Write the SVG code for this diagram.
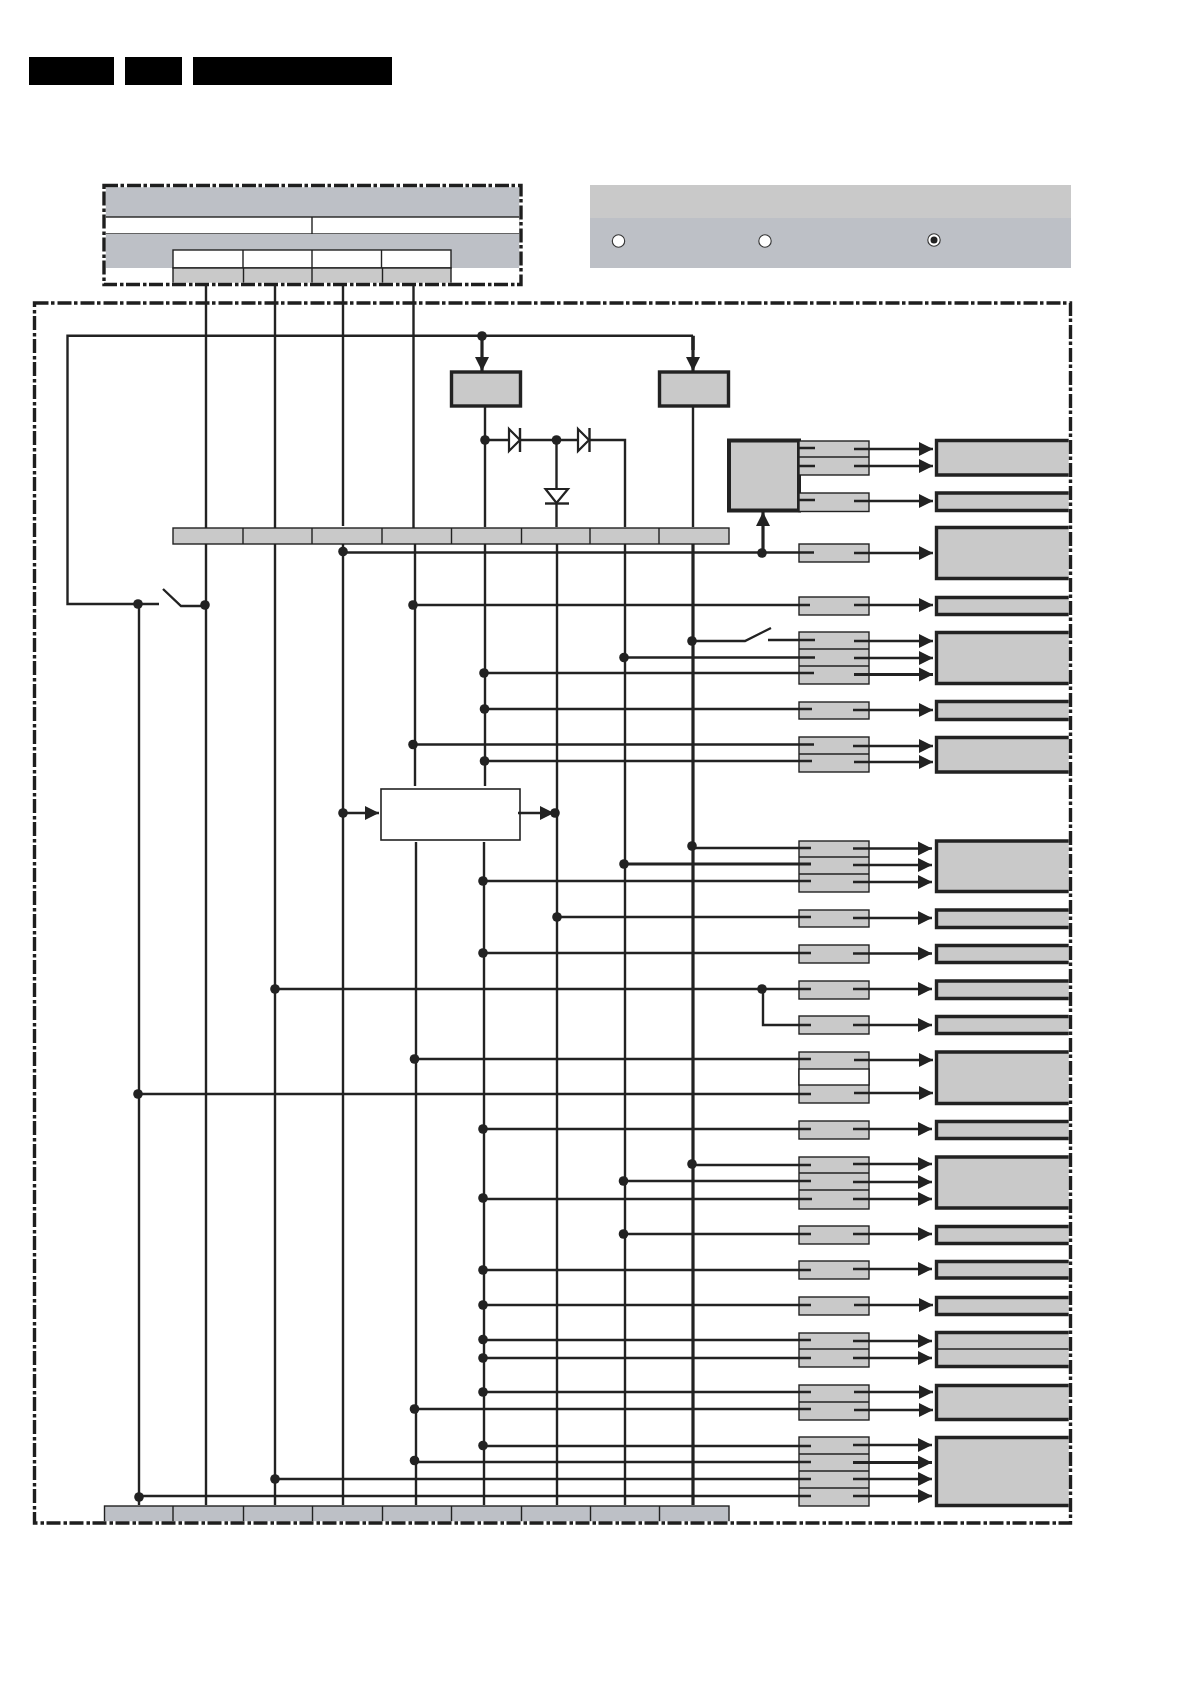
<svg xmlns="http://www.w3.org/2000/svg" width="1192" height="1685" viewBox="0 0 1192 1685">
<style>
.g{fill:#c9c9c9}.b{fill:#bdc0c6}
.cell{fill:#c9c9c9;stroke:#222;stroke-width:1.4}
.cellb{fill:#bdc0c6;stroke:#222;stroke-width:1.4}
.wc{fill:#fff;stroke:#222;stroke-width:1.4}
.t{fill:#c9c9c9;stroke:#222;stroke-width:3.4}
.k{fill:#c9c9c9;stroke:#222;stroke-width:4}
.d{stroke:#222;stroke-width:1.4;fill:none}
.w{stroke:#222;stroke-width:2.4;fill:none}
.th{stroke:#222;stroke-width:3.2;fill:none}
.a{stroke:#222;stroke-width:2.4;fill:none;marker-end:url(#ah)}
.at{stroke:#222;stroke-width:3.2;fill:none;marker-end:url(#ah)}
.dash{stroke:#1e1e1e;stroke-width:3.4;fill:none;stroke-dasharray:14 2.5 3.5 3}
.under{stroke:#fff;stroke-width:3.6;fill:none}
.dot{fill:#222}
.di{fill:#fff;stroke:#222;stroke-width:2.2}
.r{fill:#fff;stroke:#333;stroke-width:1.1}
</style>
<defs>
<marker id="ah" markerUnits="userSpaceOnUse" markerWidth="15" markerHeight="15" refX="14" refY="7.5" orient="auto"><path d="M0 0.500L14 7.500L0 14.500Z" fill="#222"/></marker>
</defs>
<rect width="1192" height="1685" fill="#fff"/>
<g id="header">
<rect x="29" y="57" width="85" height="28"/>
<rect x="125" y="57" width="57" height="28"/>
<rect x="193" y="57" width="199" height="28"/>
</g>
<g id="legend-top">
<rect class="b" x="104" y="186" width="416" height="31"/>
<rect class="wc" x="104" y="217" width="416" height="17"/>
<path class="d" d="M312 217V234"/>
<rect class="b" x="104" y="234" width="416" height="34"/>
<rect class="wc" x="173" y="250" width="278" height="18"/>
<path class="d" d="M243 250V268M312 250V268M381.5 250V268"/>
<rect class="cell" x="173" y="268" width="278" height="17"/>
<path class="d" d="M243.500 268V285M312 268V285M382.500 268V285"/>
</g>
<g id="legend-right">
<rect class="g" x="590" y="185" width="481" height="33"/>
<rect class="b" x="590" y="218" width="481" height="50"/>
<circle class="r" cx="618.500" cy="241" r="6.200"/>
<circle class="r" cx="765" cy="241" r="6.200"/>
<circle class="r" cx="934" cy="240" r="6.200"/>
<circle class="dot" cx="934" cy="240" r="3.500"/>
</g>
<g id="top-bar">
<rect class="cell" x="173" y="528" width="556" height="16"/>
<path class="d" d="M243 528V544M312 528V544M382 528V544M451.500 528V544M521.500 528V544M590 528V544M659 528V544"/>
</g>
<g id="bottom-bar">
<rect class="cellb" x="104.500" y="1506" width="624.500" height="17"/>
<path class="d" d="M173 1506V1523M243.500 1506V1523M312.500 1506V1523M382.500 1506V1523M451.500 1506V1523M521.500 1506V1523M590.500 1506V1523M659.500 1506V1523"/>
</g>
<g id="reg1"><rect class="t" x="451.500" y="372" width="69" height="34"/></g>
<g id="reg2"><rect class="t" x="659.500" y="372" width="69" height="34"/></g>
<g id="chip"><rect class="k" x="729" y="440.500" width="70" height="70"/></g>
<g id="center"><rect class="wc" x="381" y="789" width="139" height="51" style="stroke-width:1.600"/></g>
<g id="switches">
<rect class="cell" x="799" y="441" width="70" height="34"/><path class="d" d="M799 457H869"/>
<rect class="cell" x="799" y="493" width="70" height="18.500"/>
<rect class="cell" x="799" y="544" width="70" height="18"/>
<rect class="cell" x="799" y="597" width="70" height="18"/>
<rect class="cell" x="799" y="632" width="70" height="52"/><path class="d" d="M799 649H869M799 666H869"/>
<rect class="cell" x="799" y="702" width="70" height="17"/>
<rect class="cell" x="799" y="737" width="70" height="35"/><path class="d" d="M799 754H869"/>
<rect class="cell" x="799" y="841" width="70" height="51"/><path class="d" d="M799 857H869M799 874H869"/>
<rect class="cell" x="799" y="910" width="70" height="17"/>
<rect class="cell" x="799" y="945" width="70" height="18"/>
<rect class="cell" x="799" y="981" width="70" height="18"/>
<rect class="cell" x="799" y="1016" width="70" height="18"/>
<rect class="cell" x="799" y="1052" width="70" height="51"/><rect class="wc" x="799" y="1069" width="70" height="16"/>
<rect class="cell" x="799" y="1121" width="70" height="18"/>
<rect class="cell" x="799" y="1157" width="70" height="52"/><path class="d" d="M799 1173H869M799 1190H869"/>
<rect class="cell" x="799" y="1226" width="70" height="18"/>
<rect class="cell" x="799" y="1261" width="70" height="18"/>
<rect class="cell" x="799" y="1297" width="70" height="18"/>
<rect class="cell" x="799" y="1333" width="70" height="34"/><path class="d" d="M799 1349H869"/>
<rect class="cell" x="799" y="1385" width="70" height="35"/><path class="d" d="M799 1402H869"/>
<rect class="cell" x="799" y="1437" width="70" height="69"/><path class="d" d="M799 1454H869M799 1471H869M799 1488H869"/>
</g>
<g id="targets">
<path class="t" d="M1071 440.500H936.500V475H1071"/>
<path class="t" d="M1071 493H936.500V510.500H1071"/>
<path class="t" d="M1071 527.500H936.500V578.500H1071"/>
<path class="t" d="M1071 597.500H936.500V614.500H1071"/>
<path class="t" d="M1071 632.500H936.500V683.500H1071"/>
<path class="t" d="M1071 701.500H936.500V719.500H1071"/>
<path class="t" d="M1071 737.500H936.500V772H1071"/>
<path class="t" d="M1071 841H936.500V891.500H1071"/>
<path class="t" d="M1071 910H936.500V927.500H1071"/>
<path class="t" d="M1071 945.500H936.500V962.500H1071"/>
<path class="t" d="M1071 981H936.500V998.500H1071"/>
<path class="t" d="M1071 1016.500H936.500V1033.500H1071"/>
<path class="t" d="M1071 1052H936.500V1103.500H1071"/>
<path class="t" d="M1071 1121.500H936.500V1138.500H1071"/>
<path class="t" d="M1071 1157H936.500V1208H1071"/>
<path class="t" d="M1071 1226.500H936.500V1243.500H1071"/>
<path class="t" d="M1071 1261.500H936.500V1278H1071"/>
<path class="t" d="M1071 1297.500H936.500V1314.500H1071"/>
<path class="t" d="M1071 1332.500H936.500V1366.500H1071"/><path class="d" d="M936.500 1349H1071"/>
<path class="t" d="M1071 1385.500H936.500V1419.500H1071"/>
<path class="t" d="M1071 1437.500H936.500V1505.500H1071"/>
</g>
<g id="frames">
<rect class="under" x="104" y="185.500" width="417" height="99"/>
<rect class="dash" x="104" y="185.500" width="417" height="99"/>
<rect class="under" x="34.500" y="303" width="1036" height="1220"/>
<rect class="dash" x="34.500" y="303" width="1036" height="1220"/>
</g>
<g id="connectors">
<path class="w" d="M206 285V528M275 285V528M343 285V526M413.500 285V528"/>
<path class="w" d="M159 604H67.500V335.700H693"/>
<path class="th" d="M693 335.700V350"/>
<path class="at" d="M482 336V371"/>
<path class="at" d="M693 336V371"/>
<path class="w" d="M485 406V527M485 440H509M520 440H578M589.500 440H625V527M556.500 440V489M556.500 503V527M693 406V527"/>
<path class="w" d="M206 544V1505M275 544V1505M343 544V1505M415 544V786M416 842V1505M485 544V786M484 842V1505M557 544V1505M625 544V1505"/>
<path class="th" d="M693 544V1505"/>
<path class="w" d="M139 604V1505"/>
<path class="w" d="M163 589L181 606H205"/>
<path class="w" d="M343 552.500H814"/>
<path class="at" d="M763 553V512"/>
<path class="w" d="M799 448H815M799 466H815M799 500H815"/>
<path class="a" d="M854 449H933"/><path class="a" d="M854 466H933"/><path class="a" d="M854 501H933"/><path class="a" d="M854 553H933"/>
<path class="w" d="M413 605H810"/><path class="a" d="M854 605H933"/>
<path class="w" d="M692 641H745L771 628M768 640H815M624 657.500H815M484 673H814"/>
<path class="a" d="M854 641H933"/><path class="a" d="M854 658H933"/><path class="at" d="M854 674.500H933"/>
<path class="w" d="M484.500 709H812"/><path class="a" d="M853 710H933"/>
<path class="w" d="M413 744.500H814M484.500 761H812"/><path class="a" d="M853 746H933"/><path class="a" d="M854 762H933"/>
<path class="a" d="M343 813H379"/><path class="a" d="M518 813H554"/>
<path class="w" d="M692 848H811M483 881H811"/><path class="th" d="M624 864H811"/>
<path class="a" d="M853 848.500H932"/><path class="a" d="M853 865H932"/><path class="a" d="M853 882H932"/>
<path class="w" d="M557 917H811"/><path class="a" d="M853 918H932"/>
<path class="w" d="M483 953H811"/><path class="a" d="M853 953.500H932"/>
<path class="w" d="M275 989H811"/><path class="a" d="M853 989H932"/>
<path class="w" d="M763 989V1025H811"/><path class="a" d="M853 1025H932"/>
<path class="w" d="M414.500 1059H811"/><path class="a" d="M854 1060H933"/>
<path class="w" d="M139 1094H811"/><path class="a" d="M854 1093H933"/>
<path class="w" d="M483 1129H811"/><path class="a" d="M853 1129H932"/>
<path class="w" d="M692 1165H811M623.500 1181H811M483 1199H812"/>
<path class="a" d="M853 1164H932"/><path class="a" d="M853 1182H932"/><path class="a" d="M853 1199H932"/>
<path class="w" d="M623.500 1234H811"/><path class="a" d="M853 1234H932"/>
<path class="w" d="M483 1270H811"/><path class="a" d="M853 1269H932"/>
<path class="w" d="M483 1305H811"/><path class="a" d="M854 1305H933"/>
<path class="w" d="M483 1340H811M483 1358H811"/><path class="a" d="M853 1341H932"/><path class="a" d="M853 1358H932"/>
<path class="w" d="M483 1392H811M414.500 1409H811"/><path class="a" d="M854 1392H933"/><path class="a" d="M854 1410H933"/>
<path class="w" d="M483 1446H811M414.500 1462H811M275 1479H811M139 1496H811"/>
<path class="a" d="M853 1445H932"/><path class="at" d="M853 1462.500H932"/><path class="a" d="M853 1479H932"/><path class="a" d="M853 1496H932"/>
<path class="di" d="M509 429L520 440L509 451Z"/><path class="w" d="M520 428V452"/>
<path class="di" d="M578 429L589 440L578 451Z"/><path class="w" d="M589.500 428V452"/>
<path class="di" d="M545.500 489H568L556.500 503Z"/><path class="w" d="M545 503.500H569"/>
<g class="dot">
<circle cx="482" cy="336" r="4.800"/><circle cx="485" cy="440" r="4.800"/><circle cx="556.500" cy="440" r="4.800"/>
<circle cx="343" cy="551.500" r="4.800"/><circle cx="762" cy="553" r="4.800"/>
<circle cx="138" cy="604" r="4.800"/><circle cx="205" cy="605" r="4.800"/><circle cx="413" cy="605" r="4.800"/>
<circle cx="692" cy="641" r="4.800"/><circle cx="624" cy="657.500" r="4.800"/><circle cx="484" cy="673" r="4.800"/>
<circle cx="484.500" cy="709" r="4.800"/><circle cx="413" cy="744.500" r="4.800"/><circle cx="484.500" cy="761" r="4.800"/>
<circle cx="343" cy="813" r="4.800"/><circle cx="555" cy="813" r="4.800"/>
<circle cx="692" cy="846" r="4.800"/><circle cx="624" cy="864" r="4.800"/><circle cx="483" cy="881" r="4.800"/>
<circle cx="557" cy="917" r="4.800"/><circle cx="483" cy="953" r="4.800"/>
<circle cx="275" cy="989" r="4.800"/><circle cx="762" cy="989" r="4.800"/>
<circle cx="414.500" cy="1059" r="4.800"/><circle cx="138" cy="1094" r="4.800"/>
<circle cx="483" cy="1129" r="4.800"/>
<circle cx="692" cy="1164" r="4.800"/><circle cx="623.500" cy="1181" r="4.800"/><circle cx="483" cy="1198" r="4.800"/>
<circle cx="623.500" cy="1234" r="4.800"/><circle cx="483" cy="1270" r="4.800"/><circle cx="483" cy="1305" r="4.800"/>
<circle cx="483" cy="1339.500" r="4.800"/><circle cx="483" cy="1358" r="4.800"/>
<circle cx="483" cy="1392" r="4.800"/><circle cx="414.500" cy="1409" r="4.800"/>
<circle cx="483" cy="1445.500" r="4.800"/><circle cx="414.500" cy="1460.500" r="4.800"/>
<circle cx="275" cy="1479" r="4.800"/><circle cx="139" cy="1497" r="4.800"/>
</g>
</g>
</svg>
